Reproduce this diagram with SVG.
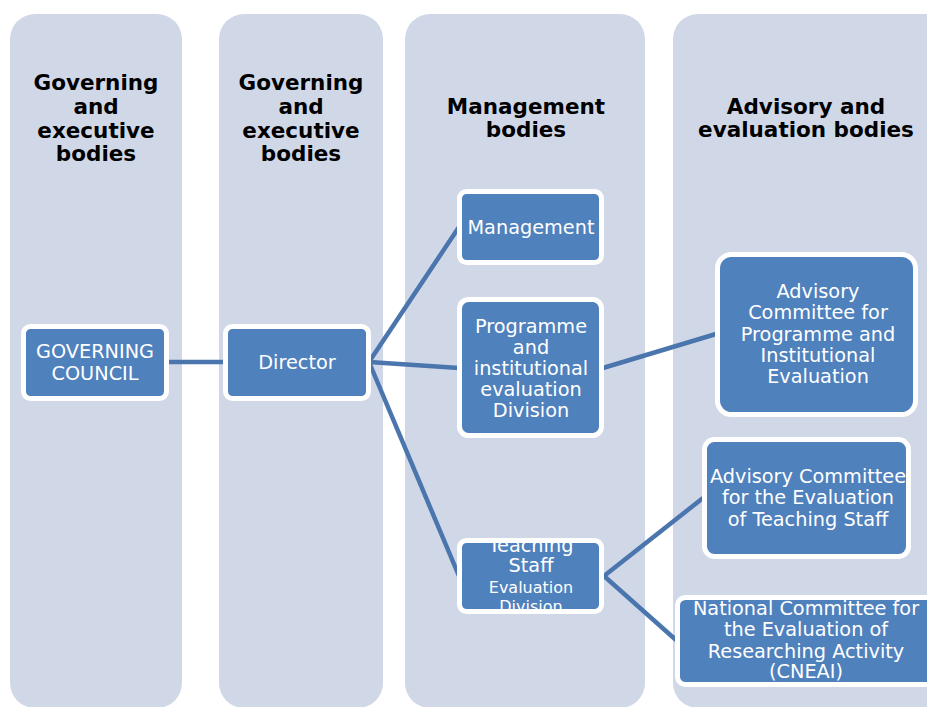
<svg xmlns="http://www.w3.org/2000/svg" width="927" height="707" viewBox="0 0 927 707">
<defs>
<style>
.lane{fill:#d0d8e8;}
.hd{font-family:"DejaVu Sans",Verdana,sans-serif;font-weight:bold;font-size:21.5px;fill:#000;text-anchor:middle;}
.nd{fill:#4f81bd;stroke:#fff;stroke-width:5;}
.tx{font-family:"DejaVu Sans",Verdana,sans-serif;font-size:19.3px;fill:#fff;text-anchor:middle;}
.sm{font-size:16px;}
.cn{stroke:#4a75ad;stroke-width:4.5;fill:none;}
</style>
<clipPath id="clipTS"><rect x="457" y="538" width="147" height="76" rx="7"/></clipPath>
</defs>
<rect width="927" height="707" fill="#fff"/>
<g id="lanes">
<rect class="lane" x="10" y="14" width="172" height="694" rx="25"/>
<rect class="lane" x="219" y="14" width="164" height="694" rx="25"/>
<rect class="lane" x="405" y="14" width="240" height="694" rx="25"/>
<rect class="lane" x="673" y="14" width="300" height="694" rx="25"/>
</g>
<g id="headers">
<text class="hd" x="96"><tspan x="96" y="90">Governing</tspan><tspan x="96" y="114">and</tspan><tspan x="96" y="138">executive</tspan><tspan x="96" y="161">bodies</tspan></text>
<text class="hd" x="301"><tspan x="301" y="90">Governing</tspan><tspan x="301" y="114">and</tspan><tspan x="301" y="138">executive</tspan><tspan x="301" y="161">bodies</tspan></text>
<text class="hd" x="526"><tspan x="526" y="114">Management</tspan><tspan x="526" y="137">bodies</tspan></text>
<text class="hd" x="806"><tspan x="806" y="114">Advisory and</tspan><tspan x="806" y="137">evaluation bodies</tspan></text>
</g>
<g id="connectors">
<line class="cn" x1="167" y1="362" x2="225" y2="362"/>
<line class="cn" x1="369" y1="362" x2="459" y2="227"/>
<line class="cn" x1="369" y1="362" x2="459" y2="368"/>
<line class="cn" x1="369" y1="362" x2="459" y2="576"/>
<line class="cn" x1="603" y1="368" x2="716" y2="334"/>
<line class="cn" x1="604" y1="576" x2="703" y2="498"/>
<line class="cn" x1="604" y1="576" x2="676" y2="640"/>
</g>
<g id="governing-council">
<rect class="nd" x="23.5" y="326.5" width="143" height="72" rx="7"/>
<text class="tx"><tspan x="95" y="358">GOVERNING</tspan><tspan x="95" y="380">COUNCIL</tspan></text>
</g>
<g id="director">
<rect class="nd" x="225.5" y="326.5" width="143" height="72" rx="7"/>
<text class="tx" x="297" y="369">Director</text>
</g>
<g id="management">
<rect class="nd" x="459.5" y="191.5" width="142" height="71" rx="7"/>
<text class="tx" x="531" y="234">Management</text>
</g>
<g id="programme-division">
<rect class="nd" x="459.5" y="299.5" width="142" height="136" rx="9"/>
<text class="tx"><tspan x="531" y="333">Programme</tspan><tspan x="531" y="354">and</tspan><tspan x="531" y="375">institutional</tspan><tspan x="531" y="396">evaluation</tspan><tspan x="531" y="417">Division</tspan></text>
</g>
<g id="teaching-division">
<rect class="nd" x="459.5" y="540.5" width="142" height="71" rx="7"/>
<g clip-path="url(#clipTS)">
<text class="tx"><tspan x="531" y="552">Teaching</tspan><tspan x="531" y="572">Staff</tspan><tspan class="sm" x="531" y="593">Evaluation</tspan><tspan class="sm" x="531" y="612">Division</tspan></text>
</g>
</g>
<g id="advisory-programme">
<rect class="nd" x="717.5" y="254.5" width="198" height="160" rx="14"/>
<text class="tx"><tspan x="818" y="298">Advisory</tspan><tspan x="818" y="319">Committee for</tspan><tspan x="818" y="341">Programme and</tspan><tspan x="818" y="362">Institutional</tspan><tspan x="818" y="383">Evaluation</tspan></text>
</g>
<g id="advisory-teaching">
<rect class="nd" x="704.5" y="439.5" width="204" height="117" rx="10"/>
<text class="tx"><tspan x="808" y="483">Advisory Committee</tspan><tspan x="808" y="504">for the Evaluation</tspan><tspan x="808" y="526">of Teaching Staff</tspan></text>
</g>
<g id="cneai">
<rect class="nd" x="677.5" y="597.5" width="280" height="87" rx="8"/>
<text class="tx"><tspan x="806" y="615">National Committee for</tspan><tspan x="806" y="636">the Evaluation of</tspan><tspan x="806" y="658">Researching Activity</tspan><tspan x="806" y="678">(CNEAI)</tspan></text>
</g>
</svg>
